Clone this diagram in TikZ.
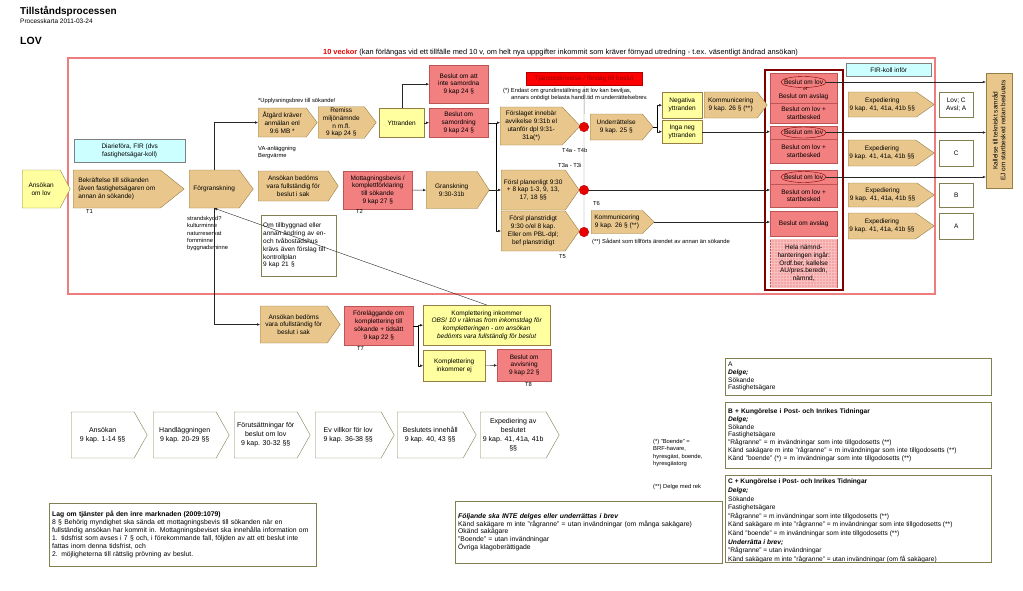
\documentclass[tikz,border=0pt]{standalone}
\usepackage{fontspec}
\setmainfont{Liberation Sans}
\usetikzlibrary{shapes.symbols, shapes.geometric, arrows.meta, patterns}

\definecolor{tanfill}{RGB}{233,199,140}
\definecolor{tanline}{RGB}{150,125,70}
\definecolor{yelfill}{RGB}{255,255,160}
\definecolor{redfill}{RGB}{242,128,128}
\definecolor{redline}{RGB}{190,85,85}
\definecolor{pinkfill}{RGB}{245,165,165}
\definecolor{cyanfill}{RGB}{204,255,255}
\definecolor{pinkframe}{RGB}{240,125,125}
\definecolor{darkframe}{RGB}{128,0,0}
\definecolor{tjtext}{RGB}{150,0,0}
\definecolor{boxline}{RGB}{128,128,80}
\definecolor{dotred}{RGB}{230,0,0}

\newcommand{\boxfont}{\fontsize{6.5}{7.8}\selectfont}
\newcommand{\notefont}{\fontsize{5.8}{7.3}\selectfont}
\newcommand{\bodyfont}{\fontsize{6.6}{7.7}\selectfont}

\tikzset{
  sz/.style 2 args={minimum width=#1, minimum height=#2},
  chev/.style={signal, signal to=east, signal pointer angle=#1, draw=tanline, fill=tanfill,
    font=\boxfont, align=center, inner sep=1pt, anchor=west},
  wchev/.style={signal, signal to=east, signal pointer angle=121, draw=boxline, fill=white,
    font=\fontsize{7}{9}\selectfont, align=center, inner sep=1pt, anchor=west},
  pbox/.style={rectangle, draw=tanline, font=\boxfont, align=center, inner sep=1pt, anchor=north west},
  redbox/.style={pbox, fill=redfill, draw=redline},
  yelbox/.style={pbox, fill=yelfill},
  cyanbox/.style={pbox, fill=cyanfill, draw=gray},
  txtbox/.style={pbox, fill=white, draw=boxline, align=left, font=\bodyfont},
  lbl/.style={inner sep=0pt, anchor=base west, font=\notefont},
  note/.style={inner sep=0pt, anchor=north west, font=\notefont, align=left},
  oval/.style={ellipse, draw=darkframe, font=\boxfont, inner xsep=-3.5pt, inner ysep=1.5pt},
  reddot/.style={circle, fill=dotred, draw=dotred!80!black, minimum size=9.5pt, inner sep=0pt},
  conn/.style={->, draw=black!85},
}

\begin{document}
\begin{tikzpicture}[x=1pt, y=-1pt, >={Latex[length=3pt,width=2.6pt]}]
\useasboundingbox (0,0) rectangle (1023,590);

% rubrik
\node[anchor=base west, inner sep=0pt, font=\bfseries\fontsize{10}{12}\selectfont] (title) at (20,14) {Tillståndsprocessen};
\node[lbl, font=\boxfont] (sub) at (20,23) {Processkarta 2011-03-24};
\node[anchor=base west, inner sep=0pt, font=\bfseries\fontsize{10.5}{12}\selectfont] (lov) at (20,44) {LOV};
\node[lbl, font=\fontsize{7.4}{8}\selectfont] (tid) at (323,54) {\textcolor{dotred}{\textbf{10 veckor}} (kan förlängas vid ett tillfälle med 10 v, om helt nya uppgifter inkommit som kräver förnyad utredning - t.ex. väsentligt ändrad ansökan)};

% ramar
\draw[pinkframe, line width=1.6pt] (68,58) rectangle (935,294);
\draw[darkframe, line width=2.4pt] (765,70) rectangle (843,290);

% huvudflöde
\node[chev=124, fill=yelfill, sz={48}{38}] (ansokan) at (22,189) {Ansökan\\om lov};
\node[cyanbox, sz={111}{23}] (diarie) at (74,139) {Diarieföra, FIR (dvs\\fastighetsägar-koll)};
\node[chev=77, align=left, sz={111}{38}] (bekraft) at (73,189) {Bekräftelse till sökanden\\(även fastighetsägaren om\\annan än sökande)};
\node[lbl] (t1) at (86,213) {T1};
\node[chev=107, sz={64}{38}] (forgr) at (189,189) {Förgranskning};
\node[note] (skydd) at (187,216) {strandskydd?\\kulturminne\\naturreservat\\fornminne\\byggnadsminne};
\node[chev=113, sz={80}{30}] (fullst) at (258,186) {Ansökan bedöms\\vara fullständig för\\beslut i sak};
\node[redbox, sz={69}{38}] (mottag) at (343,171) {Mottagningsbevis /\\komplettförklaring\\till sökande\\9 kap 27 §};
\node[lbl] (t2) at (356,213) {T2};
\node[chev=114, sz={63}{37}] (gransk) at (426,190) {Granskning\\9:30-31b};
\node[txtbox, text width=71, sz={75}{61}, font=\boxfont] (kontroll) at (261,215) {Om tillbyggnad eller\\annan ändring av en-\\och tvåbostadshus\\krävs även förslag till\\kontrollplan\\9 kap 21 §};

% anmälan och samordning
\node[lbl] (upplys) at (258,102) {*Upplysningsbrev till sökande!};
\node[chev=106, sz={59}{29}] (atgard) at (258,122.5) {Åtgärd kräver\\anmälan enl\\9:6 MB *};
\node[note] (va) at (258,146) {VA-anläggning\\Bergvärme};
\node[chev=106, sz={58}{29}] (remiss) at (318,122.5) {Remiss\\miljönämnde\\n m.fl.\\9 kap 24 §};
\node[yelbox, sz={45}{29}] (yttr) at (379,108) {Yttranden};
\node[redbox, sz={59}{38}] (samordna) at (429,65) {Beslut om att\\inte samordna\\9 kap 24 §};
\node[redbox, sz={59}{29}] (samord) at (429,108) {Beslut om\\samordning\\9 kap 24 §};

% granskning och underrättelse
\node[pbox, fill=red, draw=red!70!black, text=tjtext, sz={116}{13}] (tjanst) at (526,72) {Tjänsteskrivelse / förslag till beslut};
\node[note] (endast) at (503,88) {(*) Endast om grundinställning att lov kan beviljas,\\\hspace*{8pt}annars onödigt belasta handl.tid m underrättelsebrev.};
\node[chev=93, sz={80}{38}] (avvik) at (500,126) {Förslaget innebär\\avvikelse 9:31b el\\utanför dpl 9:31-\\31a(*)};
\node[lbl] (t4) at (562,152) {T4a - T4b};
\node[lbl] (t3) at (558,167) {T3a - T3i};
\node[chev=110, sz={78}{40}] (planenl) at (501,190) {Försl planenligt 9:30\\+ 8 kap 1-3, 9, 13,\\17, 18 §§};
\node[chev=110, sz={78}{40}] (planstr) at (501,231) {Försl planstridigt\\9:30 o/el 8 kap.\\Eller om PBL-dpl;\\bef planstridigt};
\node[lbl] (t5) at (559,258) {T5};
\node[reddot] (dotA) at (584,127) {};
\node[reddot] (dotB) at (584,190) {};
\node[reddot] (dotC) at (584,232) {};
\node[lbl] (t6) at (593,205) {T6};
\node[chev=100, sz={63}{26}] (underr) at (590,127) {Underrättelse\\9 kap. 25 §};
\node[yelbox, sz={40}{26}] (negyt) at (662,92) {Negativa\\yttranden};
\node[yelbox, sz={40}{23}] (ingayt) at (662,120) {Inga neg\\yttranden};
\node[chev=105, sz={63}{26}] (komm1) at (704,105) {Kommunicering\\9 kap. 26 § (**)};
\node[chev=90, sz={63}{23}] (komm2) at (591,222) {Kommunicering\\9 kap. 26 § (**)};
\node[lbl] (sadant) at (592,243) {(**) Sådant som tillförts ärendet av annan än sökande};

% beslut
\node[redbox, sz={67}{30}] (g1a) at (770,73) {};
\node[oval] (e1) at (803.5,82) {Beslut om lov};
\node[inner sep=0pt, font=\fontsize{4.5}{5}\selectfont] (el) at (805,89) {el};
\node[inner sep=0pt, font=\boxfont] (avsl1) at (803.5,96.5) {Beslut om avslag};
\node[redbox, sz={67}{20}] (g1b) at (770,103) {Beslut om lov +\\startbesked};
\node[redbox, sz={67}{13}] (g2a) at (770,126) {};
\node[oval] (e2) at (803.5,132.5) {Beslut om lov};
\node[redbox, sz={67}{24}] (g2b) at (770,139) {Beslut om lov +\\startbesked};
\node[redbox, sz={67}{14}] (g3a) at (770,170) {};
\node[oval] (e3) at (803.5,177) {Beslut om lov};
\node[redbox, sz={67}{23}] (g3b) at (770,184) {Beslut om lov +\\startbesked};
\node[redbox, sz={67}{25}] (g4) at (770,211) {Beslut om avslag};
\node[redbox, fill=pinkfill, postaction={pattern=grid, pattern color=white!50!redfill}, sz={67}{48}] (g5) at (770,239) {Hela nämnd-\\hanteringen ingår:\\Ordf.ber, kallelse\\AU/pres.beredn,\\nämnd,};

% expediering
\node[cyanbox, sz={85}{13}] (firkoll) at (846,63) {FIR-koll inför};
\node[chev=70, sz={86}{25}] (exp1) at (848,104.5) {Expediering\\9 kap. 41, 41a, 41b §§};
\node[chev=70, sz={86}{26}] (exp2) at (848,153) {Expediering\\9 kap. 41, 41a, 41b §§};
\node[chev=70, sz={86}{24}] (exp3) at (848,195) {Expediering\\9 kap. 41, 41a, 41b §§};
\node[chev=70, sz={86}{26}] (exp4) at (848,226) {Expediering\\9 kap. 41, 41a, 41b §§};
\node[txtbox, align=center, font=\boxfont, sz={34}{25}] (let1) at (939,92) {Lov; C\\Avsl; A};
\node[txtbox, align=center, font=\boxfont, sz={34}{26}] (let2) at (939,140) {C};
\node[txtbox, align=center, font=\boxfont, sz={34}{24}] (let3) at (939,183) {B};
\node[txtbox, align=center, font=\boxfont, sz={34}{26}] (let4) at (939,213) {A};
\node[pbox, anchor=center, fill=tanfill, rotate=90, sz={115}{26}] (kall) at (999,130.5) {Kallelse till tekniskt samråd\\EJ om startbesked redan beslutats};

% ofullständig ansökan
\node[chev=110, sz={80}{37}] (ofullst) at (260,324.5) {Ansökan bedöms\\vara ofullständig för\\beslut i sak};
\node[redbox, sz={69}{39}] (forel) at (344,306) {Föreläggande om\\komplettering till\\sökande + tidsätt\\9 kap 22 §};
\node[lbl] (t7) at (357,350) {T7};
\node[yelbox, sz={127}{40}] (kompl) at (423,305) {Komplettering inkommer\\\textit{OBS! 10 v räknas from inkomstdag för}\\\textit{kompletteringen - om ansökan}\\\textit{bedömts vara fullständig för beslut}};
\node[yelbox, sz={62}{31}] (komplej) at (423,350) {Komplettering\\inkommer ej};
\node[redbox, sz={54}{32}] (avvis) at (497,349) {Beslut om\\avvisning\\9 kap 22 §};
\node[lbl] (t8) at (525,386) {T8};

% kopplingar
\draw[conn] (forgr.north) |- (atgard.west);
\draw[conn] (forgr.south) |- (ofullst.west);
\draw[conn] (kompl.north) -- (forgr.south);
\draw[conn] (yttr.north) |- (samordna.west);
\draw[conn] (yttr) -- (samord);
\draw[conn] (mottag) -- (gransk);
\coordinate (sbus) at (496,0);
\draw[conn] (samord.east) -- (samord.east -| avvik.west);
\draw (samord.east -| sbus) -- (planstr.west -| sbus);
\draw[conn] (gransk.east) -- (gransk.east -| planenl.west);
\draw[conn] (planstr.west -| sbus) -- (planstr.west);
\draw[gray] (tjanst.south) -- (dotA.north) (dotA.south) -- (dotB.north) (dotB.south) -- (dotC.north);
\coordinate (ubus) at (657,0);
\draw (underr.east) -- (underr.east -| ubus);
\draw (negyt.west -| ubus) -- (ingayt.west -| ubus);
\draw[conn] (negyt.west -| ubus) -- (negyt.west);
\draw[conn] (ingayt.west -| ubus) -- (ingayt.west);
\draw[conn] (ingayt.east) -- (ingayt.east -| g2a.west);
\draw[conn] (dotB.east) -- (dotB.east -| g3b.west);
\draw[conn] (komm2.east) -- (komm2.east -| g4.west);
\draw[conn] (e1.east) -- (e1.east -| kall.north);
\draw[conn] (e2.east) -- (e2.east -| kall.north);
\draw[conn] (e3.east) -- (e3.east -| kall.north);
\coordinate (fbus) at (418,0);
\draw (forel.east) -- (forel.east -| fbus);
\draw (kompl.west -| fbus) -- (komplej.west -| fbus);
\draw[conn] (kompl.west -| fbus) -- (kompl.west);
\draw[conn] (komplej.west -| fbus) -- (komplej.west);
\draw[conn] (komplej) -- (avvis);

% lagrum
\node[wchev, sz={76}{46}] (b1) at (71,435) {Ansökan\\9 kap. 1-14 §§};
\node[wchev, sz={76}{46}] (b2) at (153,435) {Handläggningen\\9 kap. 20-29 §§};
\node[wchev, sz={76}{46}] (b3) at (234,435) {Förutsättningar för\\beslut om lov\\9 kap. 30-32 §§};
\node[wchev, sz={79}{46}] (b4) at (315,435) {Ev villkor för lov\\9 kap. 36-38 §§};
\node[wchev, sz={79}{46}] (b5) at (397,435) {Beslutets innehåll\\9 kap. 40, 43 §§};
\node[wchev, sz={79}{46}] (b6) at (480,435) {Expediering av\\beslutet\\9 kap. 41, 41a, 41b\\§§};

% textrutor
\node[txtbox, text width=261, sz={267}{63}, font=\fontsize{6.8}{7.9}\selectfont] (lag) at (49,502.5) {\textbf{Lag om tjänster på den inre marknaden (2009:1079)}\\8 § Behörig myndighet ska sända ett mottagningsbevis till sökanden när en\\fullständig ansökan har kommit in. Mottagningsbeviset ska innehålla information om\\1. tidsfrist som avses i 7 § och, i förekommande fall, följden av att ett beslut inte\\fattas inom denna tidsfrist, och\\2. möjligheterna till rättslig prövning av beslut.};
\node[txtbox, text width=261, sz={267}{62}, font=\fontsize{6.8}{7.6}\selectfont] (folj) at (455,501) {\textbf{\textit{Följande ska INTE delges eller underrättas i brev}}\\Känd sakägare m inte "rågranne" = utan invändningar (om många sakägare)\\Okänd sakägare\\"Boende" = utan invändningar\\Övriga klagoberättigade};
\node[note] (boende) at (653,439) {(*) "Boende" =\\BRF-havare,\\hyresgäst, boende,\\hyresgästorg};
\node[lbl] (rek) at (653,488) {(**) Delge med rek};
\node[txtbox, text width=260, sz={266}{37}] (boxA) at (725,358) {A\\\textbf{\textit{Delge;}}\\Sökande\\Fastighetsägare};
\node[txtbox, text width=260, sz={266}{66}] (boxB) at (725,402) {\textbf{B + Kungörelse i Post- och Inrikes Tidningar}\\\textbf{\textit{Delge;}}\\Sökande\\Fastighetsägare\\"Rågranne" = m invändningar som inte tillgodosetts (**)\\Känd sakägare m inte "rågranne" = m invändningar som inte tillgodosetts (**)\\Känd "boende" (*) = m invändningar som inte tillgodosetts (**)};
\begin{scope}
  \clip (725,475) rectangle (991,562);
  \node[note, font=\fontsize{6.6}{8.6}\selectfont] (textC) at (728,479) {\textbf{C + Kungörelse i Post- och Inrikes Tidningar}\\\textbf{\textit{Delge;}}\\Sökande\\Fastighetsägare\\"Rågranne" = m invändningar som inte tillgodosetts (**)\\Känd sakägare m inte "rågranne" = m invändningar som inte tillgodosetts (**)\\Känd "boende" = m invändningar som inte tillgodosetts (**)\\\textbf{\textit{Underrätta i brev;}}\\"Rågranne" = utan invändningar\\Känd sakägare m inte "rågranne" = utan invändningar (om få sakägare)};
\end{scope}
\node[pbox, draw=boxline, sz={266}{87}] (boxC) at (725,475) {};
\end{tikzpicture}
\end{document}
